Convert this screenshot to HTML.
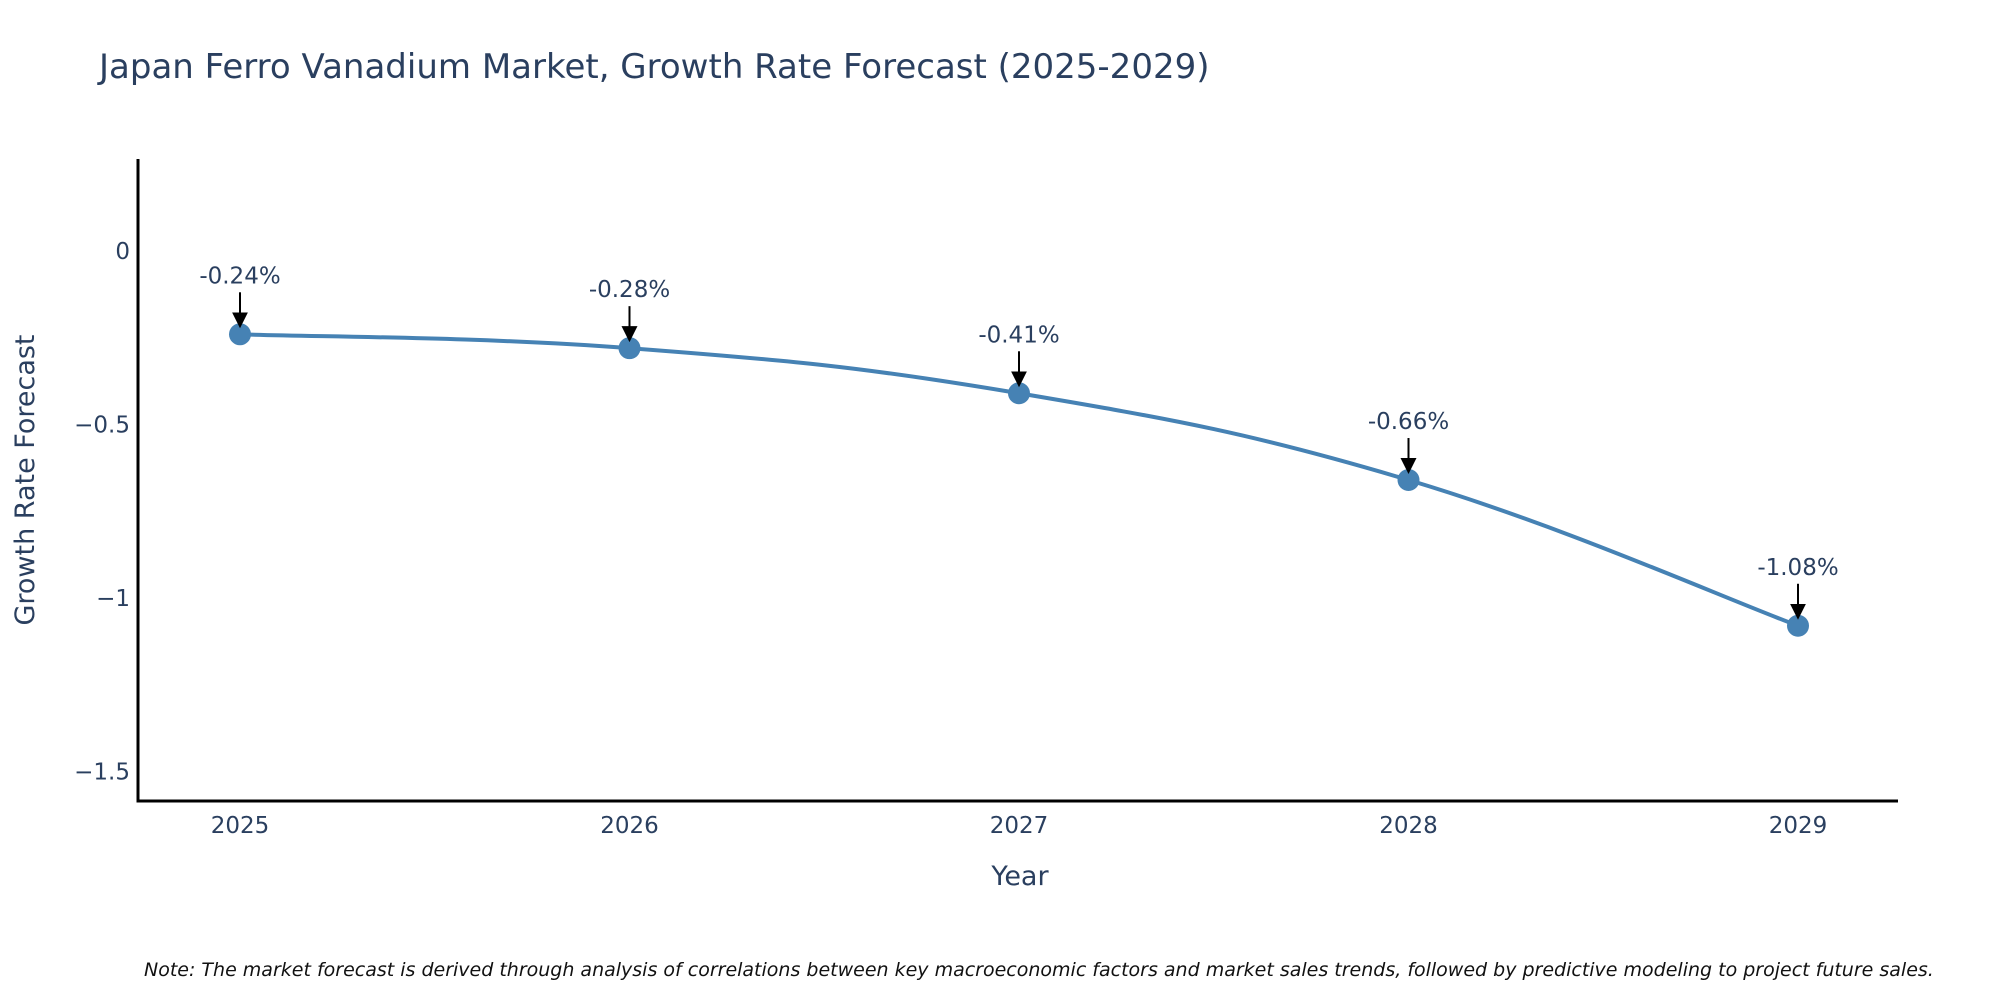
<!DOCTYPE html>
<html><head><meta charset="utf-8"><style>
body{margin:0;background:#fff;}
svg{display:block;font-family:"DejaVu Sans","Liberation Sans",sans-serif;}
</style></head><body>
<svg width="2000" height="1000" viewBox="0 0 2000 1000">
<text x="99" y="78" font-size="34" fill="#2a3f5f">Japan Ferro Vanadium Market, Growth Rate Forecast (2025-2029)</text>
<g id="plot"></g>
<text x="1020" y="885" font-size="27" fill="#2a3f5f" text-anchor="middle">Year</text>
<text transform="translate(34,480) rotate(-90)" font-size="27" fill="#2a3f5f" text-anchor="middle">Growth Rate Forecast</text>
<text x="144" y="976" font-size="19" font-style="italic" fill="#111">Note: The market forecast is derived through analysis of correlations between key macroeconomic factors and market sales trends, followed by predictive modeling to project future sales.</text>
</svg>
<script>
const years=[2025,2026,2027,2028,2029];
const values=[-0.24,-0.28,-0.41,-0.66,-1.08];
const labels=["-0.24%","-0.28%","-0.41%","-0.66%","-1.08%"];
const yTicks=[0,-0.5,-1,-1.5];
const yTickLabels=["0","\u22120.5","\u22121","\u22121.5"];
const NS="http://www.w3.org/2000/svg";
const L=138,R=1898,T=159,B=801;
const xs=y=>240+(y-2025)*389.5;
const ys=v=>251-v*347;
const g=document.getElementById('plot');
function mk(t,a){const e=document.createElementNS(NS,t);for(const k in a)e.setAttribute(k,a[k]);g.appendChild(e);return e;}
const defs=mk('defs',{});
defs.innerHTML='<marker id="ah" markerWidth="8" markerHeight="8" refX="7" refY="4" orient="auto" markerUnits="strokeWidth"><path d="M0,0 L8,4 L0,8 z" fill="#000"/></marker>';
yTicks.forEach((v,i)=>{const t=mk('text',{x:L-8,y:ys(v)+8,'font-size':23,fill:'#2a3f5f','text-anchor':'end'});t.textContent=yTickLabels[i];

});
years.forEach(y=>{const t=mk('text',{x:xs(y),y:833,'font-size':23,fill:'#2a3f5f','text-anchor':'middle'});t.textContent=y;

});
const ax=mk('path',{d:`M${L},${T} L${L},${B} L${R},${B}`,stroke:'#000','stroke-width':3,fill:'none'});


const P=years.map((y,i)=>[xs(y),ys(values[i])]);
let d=`M${P[0][0]},${P[0][1]}`;
for(let i=0;i<P.length-1;i++){const p0=P[Math.max(i-1,0)],p1=P[i],p2=P[i+1],p3=P[Math.min(i+2,P.length-1)];const k=5;
d+=` C${p1[0]+(p2[0]-p0[0])/k},${p1[1]+(p2[1]-p0[1])/k} ${p2[0]-(p3[0]-p1[0])/k},${p2[1]-(p3[1]-p1[1])/k} ${p2[0]},${p2[1]}`;}
const line=mk('path',{d:d,stroke:'#4682b4','stroke-width':4,fill:'none'});


P.forEach((p,i)=>{
const c=mk('circle',{cx:p[0],cy:p[1],r:11,fill:'#4682b4'});


const a=mk('line',{x1:p[0],y1:p[1]-42,x2:p[0],y2:p[1]-8,stroke:'#000','stroke-width':2,'marker-end':'url(#ah)'});


const t=mk('text',{x:p[0],y:p[1]-51,'font-size':23,fill:'#2a3f5f','text-anchor':'middle'});t.textContent=labels[i];


});
</script>
</body></html>
